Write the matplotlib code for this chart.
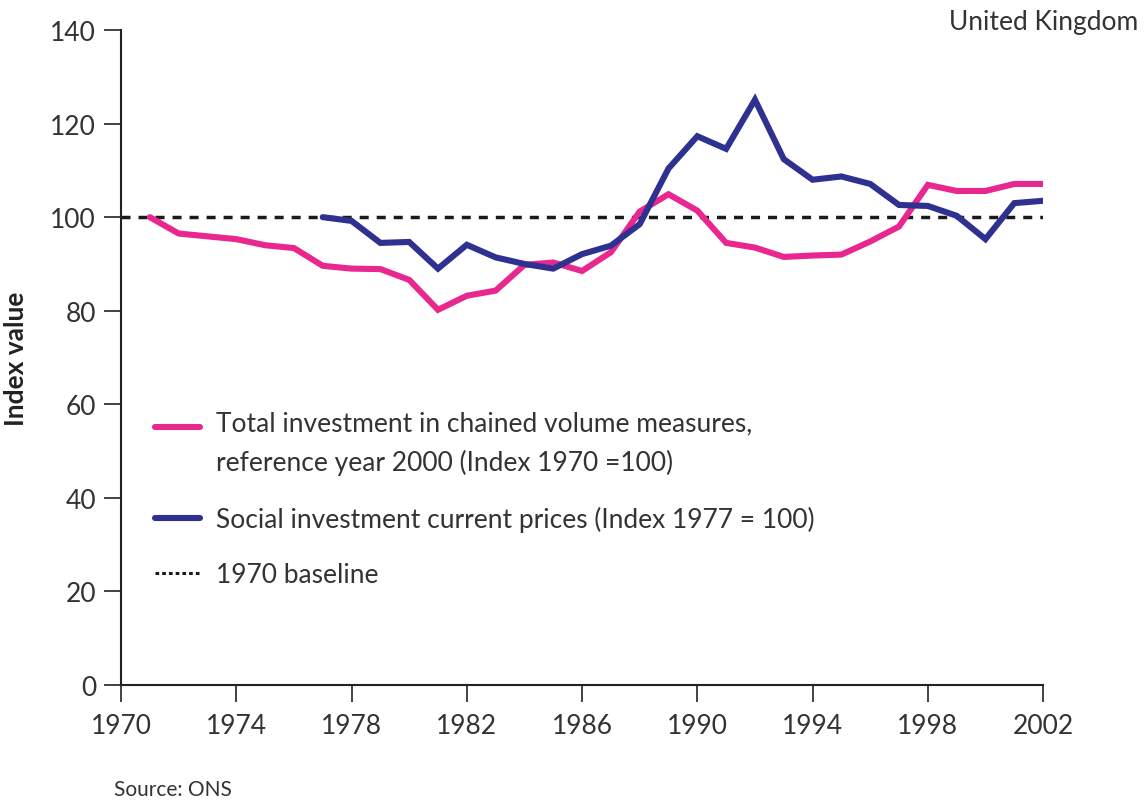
import matplotlib
matplotlib.use("Agg")
import matplotlib.pyplot as plt
from matplotlib.lines import Line2D
from matplotlib.legend_handler import HandlerLine2D

# Data
total_years = list(range(1971, 2003))
total_index = [100.0, 96.5, 95.9, 95.3, 94.0, 93.4, 89.6, 89.0, 88.9, 86.6,
               80.2, 83.2, 84.3, 89.8, 90.3, 88.5, 92.5, 101.2, 104.9, 101.4,
               94.5, 93.5, 91.5, 91.8, 92.0, 94.8, 98.0, 106.9, 105.6, 105.6,
               107.1, 107.1]

social_years = list(range(1977, 2003))
social_index = [100.0, 99.2, 94.5, 94.7, 89.0, 94.1, 91.4, 90.0, 89.0, 92.1,
                93.9, 98.5, 110.4, 117.3, 114.6, 125.1, 112.4, 108.0, 108.7, 107.1,
                102.6, 102.4, 100.3, 95.3, 103.0, 103.5]

baseline_years = [1970, 2002]
baseline_value = [100, 100]

x_ticks = list(range(1970, 2003, 4))
y_ticks = list(range(0, 141, 20))

labels = ["Total investment in chained volume measures,\nreference year 2000 (Index 1970 =100)",
          "Social investment current prices (Index 1977 = 100)",
          "1970 baseline"]

pink = "#e8288f"
navy = "#2e3190"
text_col = "#333333"


class FirstLineHandler(HandlerLine2D):
    # put the legend line next to the first row of a two-line label
    def create_artists(self, legend, orig_handle, xdescent, ydescent,
                       width, height, fontsize, trans):
        artists = super().create_artists(legend, orig_handle, xdescent, ydescent,
                                         width, height, fontsize, trans)
        for a in artists:
            a.set_ydata([y + 0.65 * fontsize for y in a.get_ydata()])
        return artists


plt.rcParams["font.family"] = ["Lato", "DejaVu Sans"]
plt.rcParams["text.color"] = text_col

fig = plt.figure(figsize=(11.45, 8.04), dpi=100)
ax = fig.add_axes([0.1057, 0.1468, 0.8053, 0.8146])

ax.plot(baseline_years, baseline_value, color="#1a1a1a", lw=2.5,
        linestyle=(0, (2.6, 2.3)), zorder=2)
ax.plot(total_years, total_index, color=pink, lw=4.4, solid_joinstyle="miter",
        solid_capstyle="round", zorder=3)
ax.plot(social_years, social_index, color=navy, lw=4.4, solid_joinstyle="miter",
        solid_capstyle="round", zorder=3)

ax.set_xlim(1970, 2002)
ax.set_ylim(0, 140)
ax.set_xticks(x_ticks)
ax.set_yticks(y_ticks)
for s in ["top", "right"]:
    ax.spines[s].set_visible(False)
for s in ["left", "bottom"]:
    ax.spines[s].set_linewidth(1.5)
    ax.spines[s].set_color("#222222")
ax.tick_params(axis="both", length=12, width=1.2, color="#222222",
               labelsize=19, labelcolor=text_col)
ax.tick_params(axis="y", pad=6)
ax.tick_params(axis="x", pad=8)

ax.set_ylabel("Index value", fontsize=19, fontweight="bold", color="#222222",
              labelpad=16)

h_total = Line2D([], [], color=pink, lw=4.4, solid_capstyle="round")
h_social = Line2D([], [], color=navy, lw=4.4, solid_capstyle="round")
h_base = Line2D([], [], color="#1a1a1a", lw=2.2, linestyle=(0, (1.2, 1.0)))
leg = ax.legend([h_total, h_social, h_base], labels, loc="upper left",
                bbox_to_anchor=(0.037, 0.419), frameon=False, fontsize=19,
                handlelength=1.7, handletextpad=0.6, labelspacing=1.15,
                borderpad=0, borderaxespad=0,
                handler_map={h_total: FirstLineHandler()})
for t in leg.get_texts():
    t.set_color(text_col)
    t.set_linespacing(1.65)

fig.text(0.994, 0.972, "United Kingdom", ha="right", va="center", fontsize=19,
         color=text_col)
fig.text(0.1, 0.017, "Source: ONS", ha="left", va="center", fontsize=15,
         color=text_col)

fig.savefig("out.png", dpi=100)
